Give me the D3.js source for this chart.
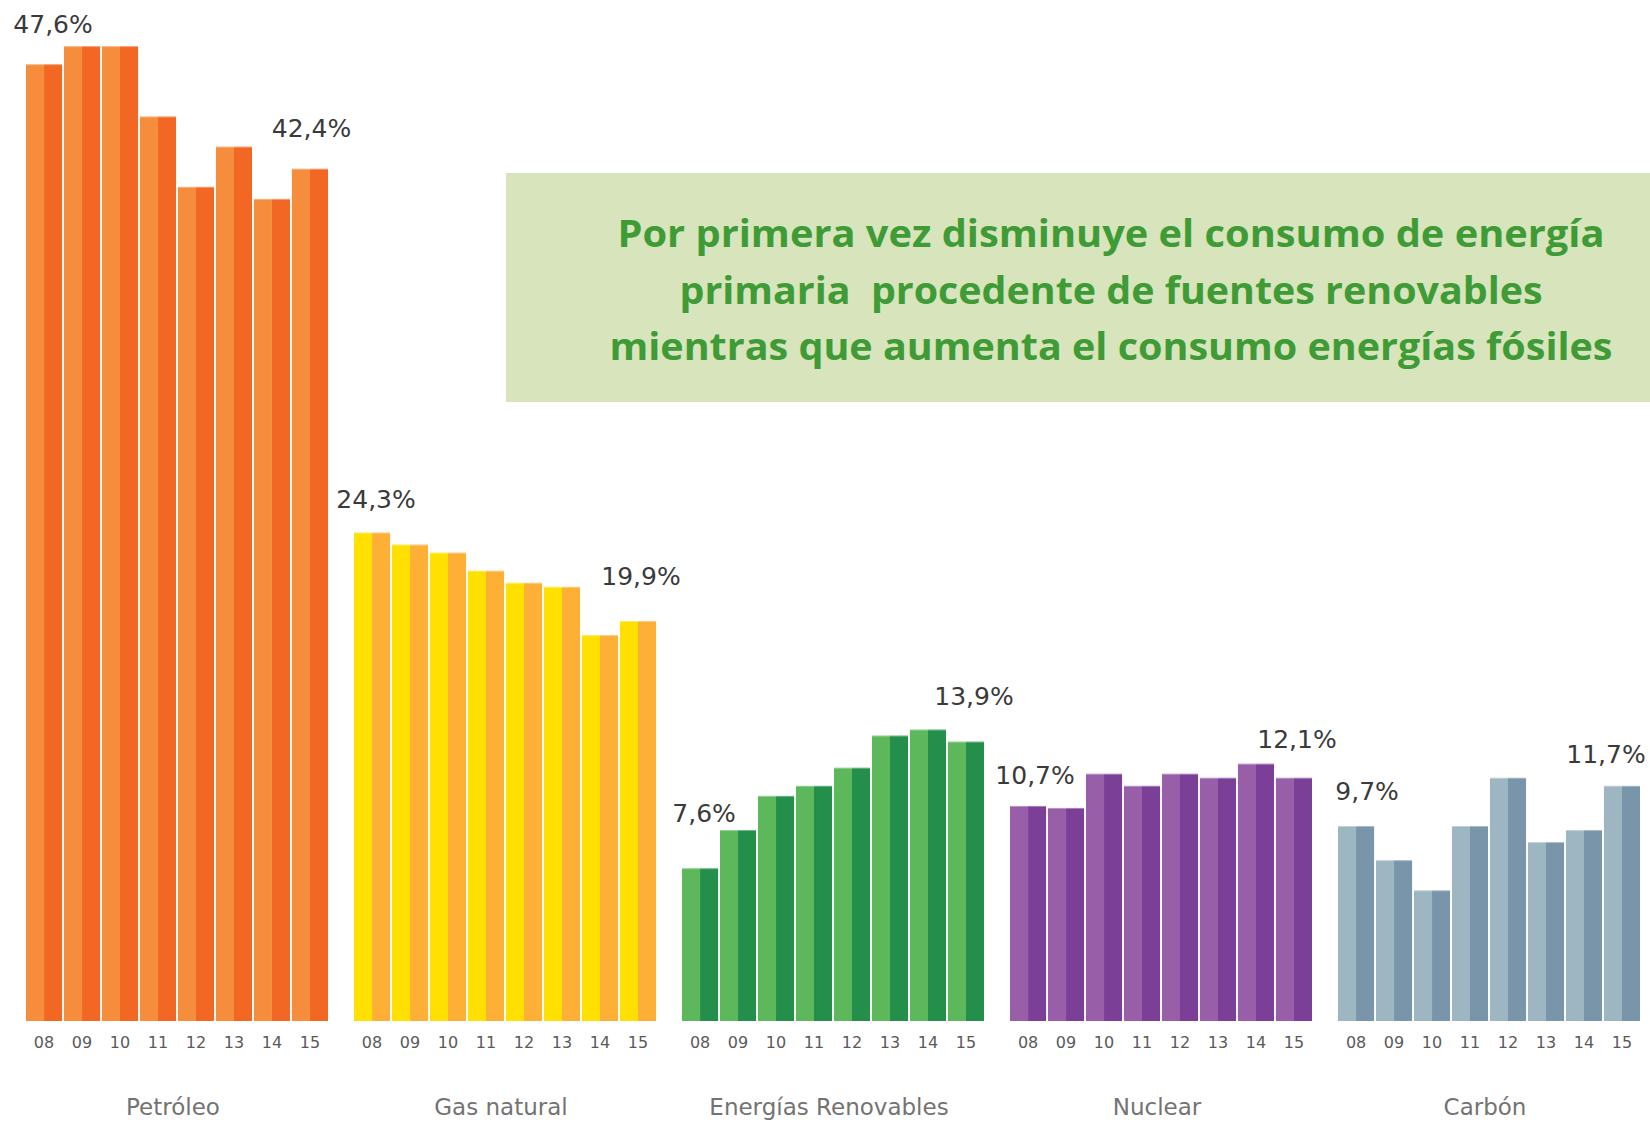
<!DOCTYPE html>
<html>
<head>
<meta charset="utf-8">
<script src="https://cdn.jsdelivr.net/npm/d3@7"></script>
<style>
  html, body { margin: 0; padding: 0; background: #fff; }
  svg { display: block; }
</style>
</head>
<body>
<svg id="chart" width="1650" height="1122"></svg>
<script>
// ---------- data ----------
const categories = ["Petróleo", "Gas natural", "Energías Renovables", "Nuclear", "Carbón"];
const years = ["08", "09", "10", "11", "12", "13", "14", "15"];
const petroleo   = [47.6, 48.5, 48.5, 45.0, 41.5, 43.5, 40.9, 42.4];
const gasNatural = [24.3, 23.7, 23.3, 22.4, 21.8, 21.6, 19.2, 19.9];
const renovables = [7.6, 9.5, 11.2, 11.7, 12.6, 14.2, 14.5, 13.9];
const nuclear    = [10.7, 10.6, 12.3, 11.7, 12.3, 12.1, 12.8, 12.1];
const carbon     = [9.7, 8.0, 6.5, 9.7, 12.1, 8.9, 9.5, 11.7];
const titleLines = [
  "Por primera vez disminuye el consumo de energía",
  "primaria  procedente de fuentes renovables",
  "mientras que aumenta el consumo energías fósiles"
];

// ---------- styles ----------
const lightColors = ["#F58D3D", "#FFE000", "#5CB85B", "#985EA8", "#9DB6C2"];
const darkColors  = ["#F26724", "#FDB035", "#238F4B", "#7C3F98", "#7895AA"];
// label nudges: [dx from bar centre, gap above bar top] for first and last year
const labelDx  = [[9, 1.5], [4, 3], [4, 8], [7, 3], [11, -16]];
const labelGap = [[31, 32], [25, 36], [46, 37], [22, 30], [26, 23]];
const titleWidths = [987, 863, 1003];

const seriesList = [petroleo, gasNatural, renovables, nuclear, carbon];
const fmt = v => d3.format(".1f")(v).replace(".", ",") + "%";

const svg = d3.select("#chart");

// ---------- scales ----------
const x0 = d3.scaleBand().domain(categories).range([26, 1640]).paddingInner(0.0793).paddingOuter(0);
const x1 = d3.scaleBand().domain(years).range([0, x0.bandwidth()]).paddingInner(0.05).paddingOuter(0);
const y = d3.scaleLinear().domain([0, 50]).range([1021, 16]);

// ---------- title box ----------
svg.append("rect")
  .attr("x", 506).attr("y", 173).attr("width", 1144).attr("height", 229)
  .attr("fill", "#D8E4BC");

const titleBase = [247, 304, 360];
svg.append("g").selectAll("text").data(titleLines).join("text")
  .attr("x", 1111)
  .attr("y", (d, i) => titleBase[i])
  .attr("text-anchor", "middle")
  .attr("textLength", (d, i) => titleWidths[i])
  .attr("lengthAdjust", "spacingAndGlyphs")
  .style("white-space", "pre")
  .style("font-family", "'Open Sans', sans-serif")
  .style("font-weight", 700)
  .style("font-size", "38px")
  .attr("fill", "#3E9B35")
  .text(d => d);

// ---------- groups ----------
categories.forEach((cat, ci) => {
  const vals = seriesList[ci];
  const g = svg.append("g").attr("transform", `translate(${x0(cat)},0)`);
  const bw = x1.bandwidth();
  const rows = years.map((yr, i) => ({ yr, v: vals[i] }));

  // light half
  g.selectAll("rect.l").data(rows).join("rect")
    .attr("class", "l")
    .attr("x", d => x1(d.yr))
    .attr("y", d => y(d.v))
    .attr("width", bw / 2)
    .attr("height", d => y(0) - y(d.v))
    .attr("fill", lightColors[ci]);
  // dark half
  g.selectAll("rect.d").data(rows).join("rect")
    .attr("class", "d")
    .attr("x", d => x1(d.yr) + bw / 2)
    .attr("y", d => y(d.v))
    .attr("width", bw / 2)
    .attr("height", d => y(0) - y(d.v))
    .attr("fill", darkColors[ci]);
  // top highlight
  g.selectAll("rect.h").data(rows).join("rect")
    .attr("class", "h")
    .attr("x", d => x1(d.yr))
    .attr("y", d => y(d.v))
    .attr("width", bw)
    .attr("height", 1)
    .attr("fill", "#fff").attr("opacity", 0.35);

  // year axis
  const ax = g.append("g")
    .attr("transform", `translate(0,${y(0)})`)
    .call(d3.axisBottom(x1).tickSize(0).tickPadding(16));
  ax.select(".domain").remove();
  ax.selectAll("text")
    .style("font-family", "'DejaVu Sans', sans-serif")
    .style("font-size", "16px")
    .attr("fill", "#5a5a5a");

  // value labels for first and last year
  const ends = [0, years.length - 1];
  ends.forEach((idx, k) => {
    g.append("text")
      .attr("x", x1(years[idx]) + bw / 2 + labelDx[ci][k])
      .attr("y", y(vals[idx]) - labelGap[ci][k])
      .attr("text-anchor", "middle")
      .style("font-family", "'DejaVu Sans', sans-serif")
      .style("font-size", "25px")
      .attr("fill", "#3a3a3a")
      .text(fmt(vals[idx]));
  });

  // category label
  g.append("text")
    .attr("x", x0.bandwidth() / 2 - 4)
    .attr("y", 1115)
    .attr("text-anchor", "middle")
    .style("font-family", "'DejaVu Sans', sans-serif")
    .style("font-size", "23px")
    .attr("fill", "#737373")
    .text(cat);
});
</script>
</body>
</html>
